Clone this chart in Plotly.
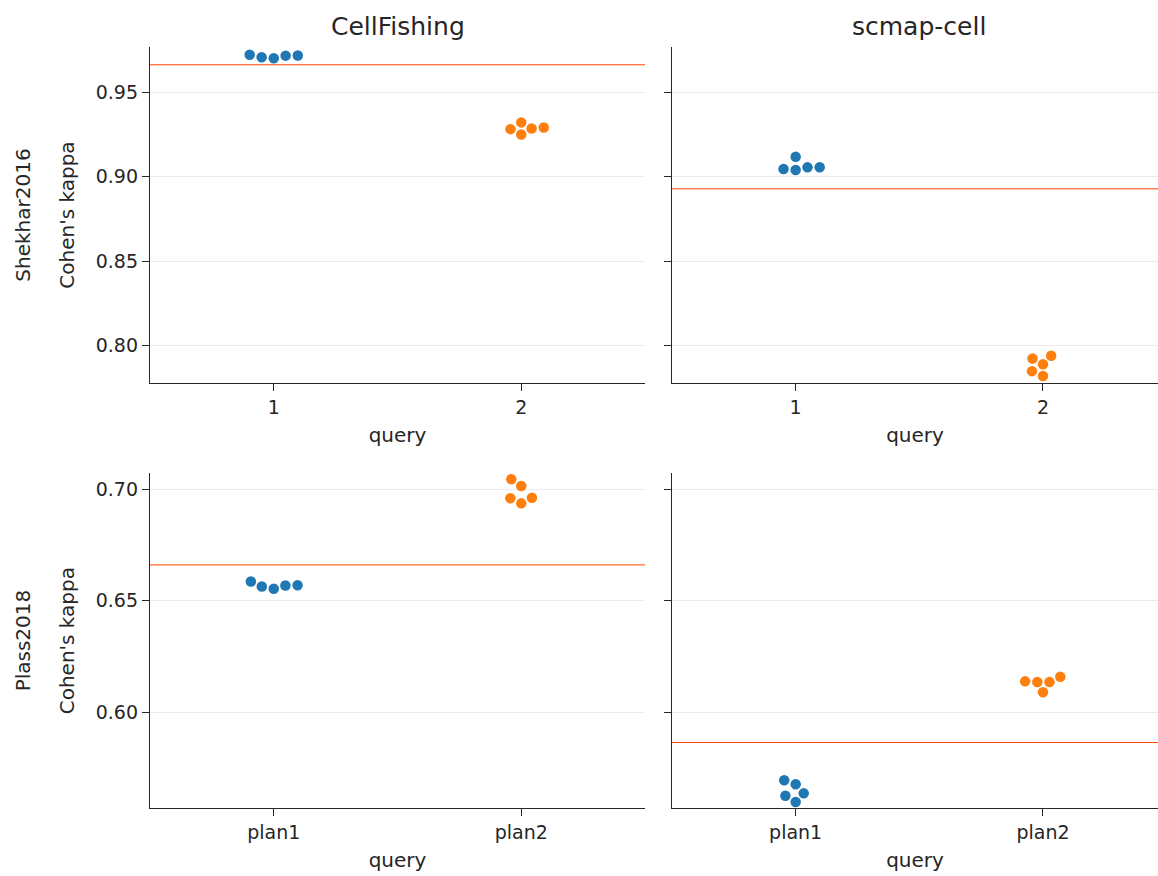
import numpy as np
import plotly.graph_objects as go

W, H = 1158, 876

# ---------------- data ----------------
datasets = ["Shekhar2016", "Plass2018"]
methods = ["CellFishing", "scmap-cell"]
query_ticks = {"Shekhar2016": ["1", "2"], "Plass2018": ["plan1", "plan2"]}

shekhar_cellfishing_q1 = [0.9702, 0.9708, 0.9718, 0.9717, 0.9722]
shekhar_cellfishing_q2 = [0.9250, 0.9282, 0.9286, 0.9292, 0.9322]
shekhar_scmap_q1 = [0.9040, 0.9046, 0.9056, 0.9057, 0.9118]
shekhar_scmap_q2 = [0.7821, 0.7850, 0.7890, 0.7925, 0.7941]
plass_cellfishing_q1 = [0.6554, 0.6564, 0.6569, 0.6570, 0.6587]
plass_cellfishing_q2 = [0.6937, 0.6960, 0.6962, 0.7015, 0.7045]
plass_scmap_q1 = [0.5598, 0.5626, 0.5637, 0.5678, 0.5696]
plass_scmap_q2 = [0.6090, 0.6136, 0.6136, 0.6139, 0.6160]

# horizontal reference line per panel
ref_shekhar = [0.9663, 0.8929]   # CellFishing, scmap-cell
ref_plass = [0.6661, 0.5865]

values = {
    ("Shekhar2016", "CellFishing"): [shekhar_cellfishing_q1, shekhar_cellfishing_q2],
    ("Shekhar2016", "scmap-cell"): [shekhar_scmap_q1, shekhar_scmap_q2],
    ("Plass2018", "CellFishing"): [plass_cellfishing_q1, plass_cellfishing_q2],
    ("Plass2018", "scmap-cell"): [plass_scmap_q1, plass_scmap_q2],
}
refs = {
    ("Shekhar2016", "CellFishing"): ref_shekhar[0],
    ("Shekhar2016", "scmap-cell"): ref_shekhar[1],
    ("Plass2018", "CellFishing"): ref_plass[0],
    ("Plass2018", "scmap-cell"): ref_plass[1],
}

# ---------------- layout constants ----------------
x_domains = [[150 / W, 645 / W], [672 / W, 1.0]]
x_ranges = [[-0.5, 1.5], [-0.5, 1.465]]   # right panel is clipped at the figure edge
y_domains = [[1 - 383.3 / H, 1 - 46.7 / H], [1 - 808.3 / H, 1 - 473 / H]]
y_ranges = [[0.7778, 0.977], [0.5570, 0.7073]]
hue_colors = ["#1f77b4", "#ff7f0e"]
TXT = "#262626"
FONT = "DejaVu Sans"
MARKER_D = 10.5
COLLIDE_D = 11.6


def beeswarm(vals, px_per_unit_y, d):
    """seaborn-like beeswarm; returns x offsets in pixels (same order as vals)."""
    vals = np.asarray(vals, dtype=float)
    order = np.argsort(vals, kind="stable")
    ys = vals[order] * px_per_unit_y
    placed = []
    for y in ys:
        if not placed:
            placed.append((0.0, y))
            continue
        neigh = [(xj, yj) for xj, yj in placed if abs(y - yj) < d]
        cands = [(0.0, y)]
        left_first = True
        for xj, yj in neigh:
            dx = np.sqrt(max(d ** 2 - (y - yj) ** 2, 0)) * 1.05
            cl, cr = (xj - dx, y), (xj + dx, y)
            cands.extend([cl, cr] if left_first else [cr, cl])
            left_first = not left_first
        cands.sort(key=lambda c: abs(c[0]))
        chosen = cands[0]
        for c in cands:
            if all((c[0] - xj) ** 2 + (c[1] - yj) ** 2 >= d ** 2 for xj, yj in neigh):
                chosen = c
                break
        placed.append(chosen)
    offs = np.empty(len(vals))
    for k, idx in enumerate(order):
        offs[idx] = placed[k][0]
    return offs


fig = go.Figure()
shapes = []
annotations = []

for r, ds in enumerate(datasets):
    for c, m in enumerate(methods):
        n = r * 2 + c + 1
        sfx = "" if n == 1 else str(n)
        xpx = (x_domains[c][1] - x_domains[c][0]) * W / (x_ranges[c][1] - x_ranges[c][0])
        ypx = (y_domains[r][1] - y_domains[r][0]) * H / (y_ranges[r][1] - y_ranges[r][0])
        for q, vals in enumerate(values[(ds, m)]):
            offs = beeswarm(vals, ypx, COLLIDE_D) / xpx
            fig.add_trace(go.Scatter(
                x=q + offs, y=vals, mode="markers",
                marker=dict(size=MARKER_D, color=hue_colors[q], line=dict(width=0)),
                xaxis="x" + sfx, yaxis="y" + sfx, showlegend=False,
                hovertemplate="%{y:.4f}<extra></extra>",
            ))
        shapes.append(dict(type="line", xref="x" + sfx + " domain", x0=0, x1=1,
                           yref="y" + sfx, y0=refs[(ds, m)], y1=refs[(ds, m)],
                           line=dict(color="orangered", width=1), layer="above"))

        xa = dict(domain=x_domains[c], range=x_ranges[c], anchor="y" + sfx,
                  tickmode="array", tickvals=[0, 1], ticktext=query_ticks[ds],
                  showline=True, linecolor=TXT, linewidth=1.3, ticks="outside",
                  ticklen=7, tickwidth=1.3, tickcolor=TXT, showgrid=False,
                  zeroline=False, automargin=False,
                  tickfont=dict(family=FONT, size=19, color=TXT),
                  title=dict(text="query", font=dict(family=FONT, size=20, color=TXT), standoff=10))
        ya = dict(domain=y_domains[r], range=y_ranges[r], anchor="x" + sfx,
                  tickmode="array", tickvals=[0.80, 0.85, 0.90, 0.95] if r == 0 else [0.60, 0.65, 0.70],
                  tickformat=".2f",
                  showline=True, linecolor=TXT, linewidth=1.3, ticks="outside",
                  ticklen=7, tickwidth=1.3, tickcolor=TXT,
                  showgrid=True, gridcolor="#ebebeb", gridwidth=1,
                  zeroline=False, automargin=False,
                  showticklabels=(c == 0),
                  tickfont=dict(family=FONT, size=19, color=TXT))
        if c == 0:
            ya["title"] = dict(text="Cohen's kappa", font=dict(family=FONT, size=20, color=TXT), standoff=15)
        fig.layout["xaxis" + sfx] = xa
        fig.layout["yaxis" + sfx] = ya

    # row label
    annotations.append(dict(text=ds, x=22.7 / W, y=sum(y_domains[r]) / 2, xref="paper", yref="paper",
                            textangle=-90, showarrow=False, xanchor="center", yanchor="middle",
                            font=dict(family=FONT, size=20, color=TXT)))

title_centers = [397.5 / W, 919 / W]
for c, m in enumerate(methods):
    annotations.append(dict(text=m, x=title_centers[c], y=1 - 26.7 / H, xref="paper", yref="paper",
                            showarrow=False, xanchor="center", yanchor="middle",
                            font=dict(family=FONT, size=25, color=TXT)))

fig.update_layout(width=W, height=H, margin=dict(l=0, r=0, t=0, b=0),
                  plot_bgcolor="white", paper_bgcolor="white",
                  shapes=shapes, annotations=annotations,
                  font=dict(family=FONT, color=TXT))

fig.write_html("out.html", config={"displayModeBar": False},
               post_script="document.body.style.margin='0px';")
